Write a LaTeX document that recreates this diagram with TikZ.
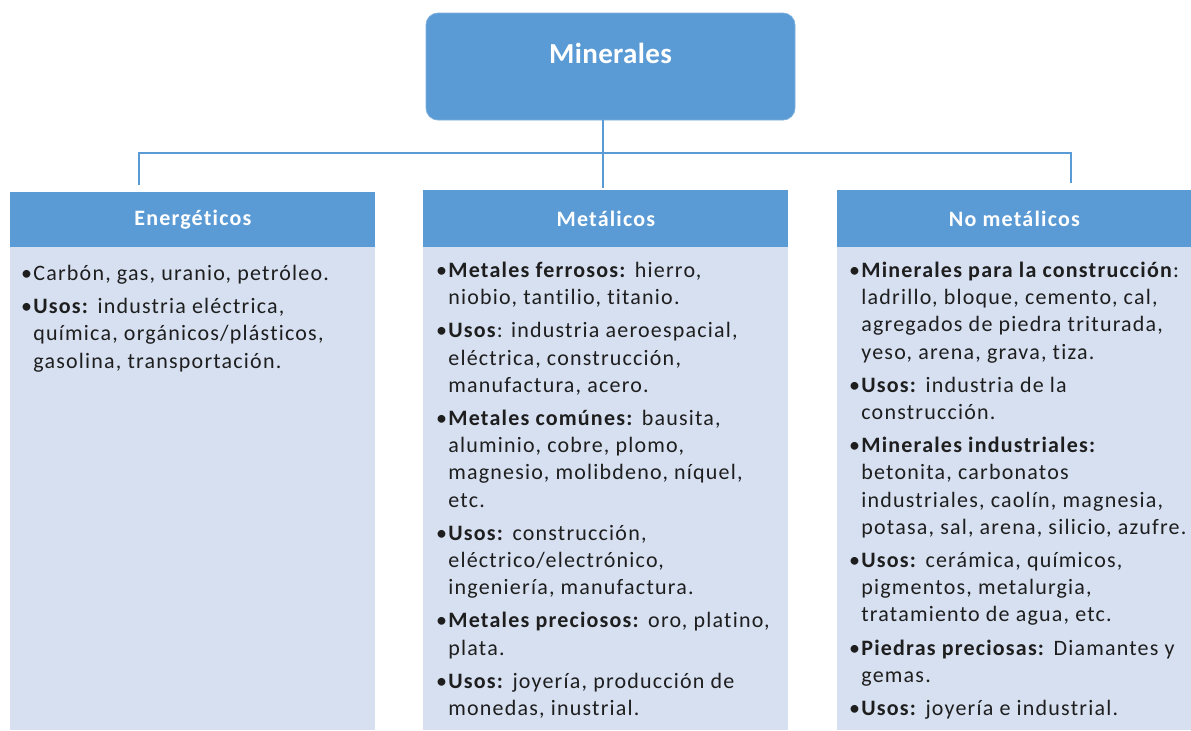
\documentclass[tikz,border=0pt]{standalone}
\usepackage{fontspec}
\setmainfont{Carlito}[Ligatures=NoCommon]
\newfontfamily\wideft{Carlito}[LetterSpace=5.5, Ligatures=NoCommon]
\usepackage{tikz}
\usetikzlibrary{positioning}
\definecolor{hdrblue}{HTML}{5B9BD5}
\definecolor{bodyblue}{HTML}{D6E0F1}
\definecolor{txtgray}{HTML}{1E1E1E}
\newcommand{\itm}{\leavevmode\llap{\textbullet\hspace{0.6pt}}}
\newcommand{\firstln}{\rule{0pt}{10pt}}
\tikzset{
	link/.style={draw=hdrblue, line width=1pt},
	top box/.style={fill=hdrblue, draw=hdrblue!80!white, line width=0.4pt, rounded corners=6pt,
		minimum width=184.5pt, minimum height=53.5pt, text=white,
		font=\fontsize{14.5}{16}\selectfont\bfseries\addfontfeature{LetterSpace=1.2}, text height=10pt, text depth=13pt},
	head box/.style={fill=hdrblue, anchor=north west, inner sep=0, text=white,
		font=\wideft\fontsize{11}{12}\selectfont\bfseries},
	body box/.style={fill=bodyblue, anchor=north west, inner sep=0},
	body text/.style={anchor=north west, inner sep=0, align=left, text=txtgray,
		font=\wideft\fontsize{11}{13.6}\selectfont},
}

\begin{document}
\begin{tikzpicture}[x=0.5pt, y=-0.5pt]
		\useasboundingbox (0,0) rectangle (1191,730);

		\node [top box] (min) at (610.5,66.5) {Minerales};

		\foreach \n/\t/\x/\y/\w in {ene/Energéticos/10/192/365, met/Metálicos/423/190/365, nom/No metálicos/837/190/354} {
			\node [head box, minimum width=\w*0.5pt, minimum height={(247-\y)*0.5pt}] (\n) at (\x,\y) {\t};
			\node [body box, minimum width=\w*0.5pt, minimum height=241.5pt] (\n-body) at (\x,247) {};
		};

		\coordinate (bus-w) at (139,153);
		\coordinate (bus-m) at (603,153);
		\coordinate (bus-e) at (1071,153);
		\draw [link, shorten <=3.5pt, shorten >=3.5pt] (bus-w |- ene.north) -- (bus-w) -- (bus-e) -- (bus-e |- nom.north);
		\draw [link, shorten >=1pt] (bus-m |- min.south) -- (bus-m |- met.north);

		% textos de cada columna
		\node [body text] (ene-txt) at (33,260) {
			\firstln\itm Carbón, gas, uranio, petróleo.\\[3pt]
			\itm\textbf{Usos:} industria eléctrica,\\
			química, orgánicos/plásticos,\\
			gasolina, transportación.
		};
		\node [body text] (met-txt) at (448,257) {
			\firstln\itm\textbf{Metales ferrosos:} hierro,\\
			niobio, tantilio, titanio.\\[3pt]
			\itm\textbf{Usos}: industria aeroespacial,\\
			eléctrica, construcción,\\
			manufactura, acero.\\[3pt]
			\itm\textbf{Metales comúnes:} bausita,\\
			aluminio, cobre, plomo,\\
			magnesio, molibdeno, níquel,\\
			etc.\\[3pt]
			\itm\textbf{Usos:} construcción,\\
			eléctrico/electrónico,\\
			ingeniería, manufactura.\\[3pt]
			\itm\textbf{Metales preciosos:} oro, platino,\\
			plata.\\[3pt]
			\itm\textbf{Usos:} joyería, producción de\\
			monedas, inustrial.
		};
		\node [body text] (nom-txt) at (861,257) {
			\firstln\itm\textbf{Minerales para la construcción}:\\
			ladrillo, bloque, cemento, cal,\\
			agregados de piedra triturada,\\
			yeso, arena, grava, tiza.\\[3pt]
			\itm\textbf{Usos:} industria de la\\
			construcción.\\[3pt]
			\itm\textbf{Minerales industriales:}\\
			betonita, carbonatos\\
			industriales, caolín, magnesia,\\
			potasa, sal, arena, silicio, azufre.\\[3pt]
			\itm\textbf{Usos:} cerámica, químicos,\\
			pigmentos, metalurgia,\\
			tratamiento de agua, etc.\\[3pt]
			\itm\textbf{Piedras preciosas:} Diamantes y\\
			gemas.\\[3pt]
			\itm\textbf{Usos:} joyería e industrial.
		};
	\end{tikzpicture}
\end{document}
